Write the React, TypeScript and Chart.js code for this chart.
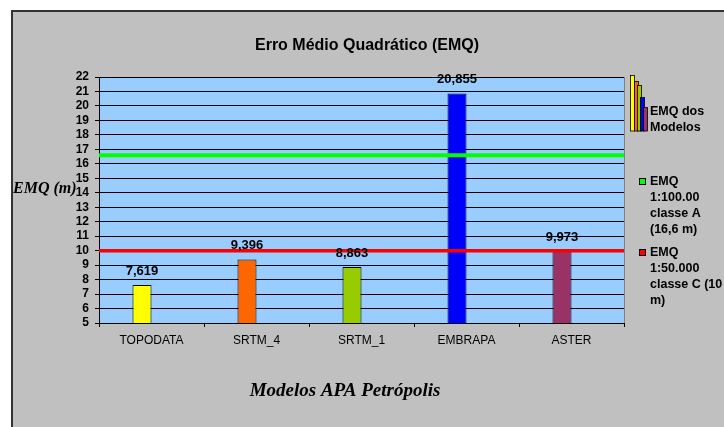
import { useEffect, useRef } from "react";
import { Chart, registerables } from "chart.js";

Chart.register(...registerables);

const chartTitle = "Erro Médio Quadrático (EMQ)";
const yTitle = "EMQ (m)";
const xTitle = "Modelos APA Petrópolis";
const categories = ["TOPODATA", "SRTM_4", "SRTM_1", "EMBRAPA", "ASTER"];
const emqValues = [7.619, 9.396, 8.863, 20.855, 9.973];
const valueLabels = ["7,619", "9,396", "8,863", "20,855", "9,973"];
const barColors = ["#FFFF00", "#FF6600", "#99CC00", "#0000FF", "#993366"];
const seriesLegend = ["EMQ dos", "Modelos"];
const thresholdValues = [16.6, 10];
const thresholdColors = ["#00FF00", "#FF0000"];
const thresholdLegend = [
  ["EMQ", "1:100.00", "classe A", "(16,6 m)"],
  ["EMQ", "1:50.000", "classe C (10", "m)"],
];
const yMin = 5;
const yMax = 22;

const SANS = '"Liberation Sans", Arial, sans-serif';
const SERIF = '"Liberation Serif", "Times New Roman", serif';

const decorPlugin = {
  id: "decor",
  beforeDraw(chart: any) {
    const { ctx, chartArea } = chart;
    ctx.save();
    ctx.fillStyle = "#FFFFFF";
    ctx.fillRect(0, 0, chart.width, chart.height);
    ctx.fillStyle = "#C0C0C0";
    ctx.fillRect(11, 10, chart.width, chart.height);
    ctx.strokeStyle = "#333333";
    ctx.lineWidth = 2;
    ctx.beginPath();
    ctx.moveTo(12, chart.height + 2);
    ctx.lineTo(12, 11);
    ctx.lineTo(chart.width + 2, 11);
    ctx.stroke();
    ctx.fillStyle = "#99CCFF";
    ctx.fillRect(chartArea.left, chartArea.top, chartArea.right - chartArea.left, chartArea.bottom - chartArea.top);
    ctx.strokeStyle = "#808080";
    ctx.lineWidth = 1;
    ctx.beginPath();
    ctx.moveTo(chartArea.right + 0.5, chartArea.bottom);
    ctx.lineTo(chartArea.right + 0.5, chartArea.top);
    ctx.stroke();
    ctx.restore();
  },
  afterDatasetsDraw(chart: any) {
    const { ctx, chartArea, scales } = chart;
    const y = scales.y;
    ctx.save();
    // threshold lines
    thresholdValues.forEach((v, i) => {
      const py = y.getPixelForValue(v);
      ctx.strokeStyle = thresholdColors[i];
      ctx.lineWidth = i === 0 ? 4 : 3.5;
      ctx.beginPath();
      ctx.moveTo(chartArea.left, py);
      ctx.lineTo(chartArea.right, py);
      ctx.stroke();
    });
    // value labels
    const meta = chart.getDatasetMeta(0);
    ctx.fillStyle = "#000";
    ctx.font = `bold 13px ${SANS}`;
    ctx.textAlign = "center";
    ctx.textBaseline = "middle";
    meta.data.forEach((bar: any, i: number) => {
      ctx.fillText(valueLabels[i], bar.x, bar.y - 14);
    });
    ctx.restore();
  },
  afterDraw(chart: any) {
    const { ctx } = chart;
    ctx.save();
    ctx.fillStyle = "#000";
    // title
    ctx.font = `bold 16px ${SANS}`;
    ctx.textAlign = "center";
    ctx.textBaseline = "alphabetic";
    ctx.fillText(chartTitle, 367, 50);
    // y title
    ctx.font = `italic bold 16px ${SERIF}`;
    ctx.textAlign = "left";
    ctx.textBaseline = "middle";
    ctx.fillText(yTitle, 13, 189);
    // x title
    ctx.font = `italic bold 19px ${SERIF}`;
    ctx.textAlign = "center";
    ctx.fillText(xTitle, 345, 391);
    // legend: series icon
    const icon = [
      [630.5, 75.5],
      [634.5, 81.5],
      [637.5, 85.5],
      [640.5, 97.5],
      [643.5, 107.5],
    ];
    icon.forEach(([x, top], i) => {
      ctx.fillStyle = barColors[i];
      ctx.fillRect(x, top, 4, 131 - top);
      ctx.strokeStyle = "#000";
      ctx.lineWidth = 0.8;
      ctx.strokeRect(x, top, 4, 131 - top);
    });
    ctx.fillStyle = "#000";
    ctx.font = `bold 12.5px ${SANS}`;
    ctx.textAlign = "left";
    ctx.textBaseline = "middle";
    ctx.fillText(seriesLegend[0], 650, 112);
    ctx.fillText(seriesLegend[1], 650, 128);
    // legend: thresholds
    const starts = [182, 253];
    thresholdLegend.forEach((lines, i) => {
      ctx.fillStyle = thresholdColors[i];
      ctx.fillRect(639.5, starts[i] - 3.5, 6, 6);
      ctx.strokeStyle = "#000";
      ctx.lineWidth = 1;
      ctx.strokeRect(639.5, starts[i] - 3.5, 6, 6);
      ctx.fillStyle = "#000";
      lines.forEach((t, j) => {
        ctx.fillText(t, 650, starts[i] + j * 16);
      });
    });
    ctx.restore();
  },
};

export default function App() {
  const ref = useRef<HTMLCanvasElement | null>(null);
  useEffect(() => {
    if (!ref.current) return;
    const chart = new Chart(ref.current, {
      type: "bar",
      data: {
        labels: categories,
        datasets: [
          {
            label: "EMQ dos Modelos",
            data: emqValues,
            backgroundColor: barColors,
            borderColor: "#000000",
            borderWidth: 1,
            categoryPercentage: 0.362,
            barPercentage: 1,
          },
          {
            label: "",
            data: categories.map(() => null),
            categoryPercentage: 0.362,
            barPercentage: 1,
          },
        ],
      },
      options: {
        responsive: false,
        animation: false,
        devicePixelRatio: 1,
        layout: { padding: { left: 0, top: 77, right: 100, bottom: 0 } },
        plugins: {
          legend: { display: false },
          title: { display: false },
          tooltip: { enabled: false },
        },
        scales: {
          x: {
            grid: {
              display: true,
              offset: true,
              drawOnChartArea: false,
              drawTicks: true,
              tickLength: 4,
              color: "#000",
            },
            border: { display: true, color: "#000", width: 1 },
            ticks: {
              color: "#000",
              font: { family: SANS, size: 12 },
              padding: 6,
              maxRotation: 0,
              autoSkip: false,
            },
            afterFit(s: any) {
              s.height = 104;
            },
          },
          y: {
            min: yMin,
            max: yMax,
            grid: { color: "#000", lineWidth: 1, tickLength: 4, drawTicks: true },
            border: { display: true, color: "#000", width: 1 },
            ticks: {
              stepSize: 1,
              autoSkip: false,
              color: "#000",
              font: { family: SANS, size: 12, weight: "bold" },
              padding: 6,
            },
            afterFit(s: any) {
              s.width = 99;
            },
          },
        },
      },
      plugins: [decorPlugin],
    });
    return () => chart.destroy();
  }, []);
  return (
    <div style={{ position: "absolute", left: 0, top: 0, width: 724, height: 427 }}>
      <canvas ref={ref} width={724} height={427} />
    </div>
  );
}
